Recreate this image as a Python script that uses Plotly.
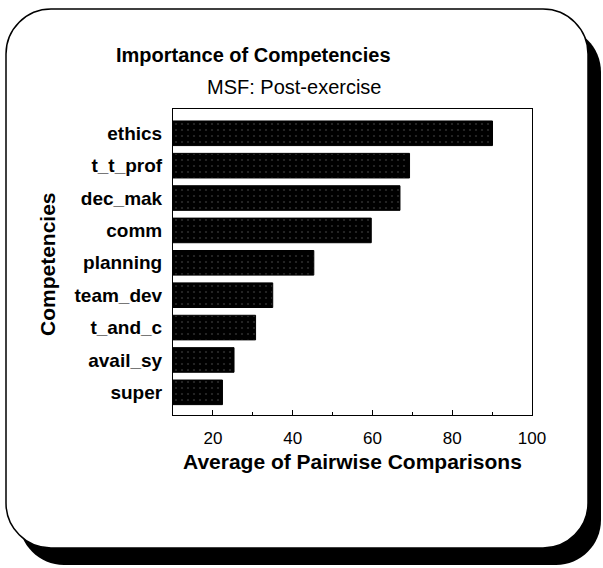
import plotly.graph_objects as go

# Competency rankings, average of pairwise comparisons (post-exercise)
competencies = ["ethics", "t_t_prof", "dec_mak", "comm", "planning",
                "team_dev", "t_and_c", "avail_sy", "super"]
avg_pairwise = [90.1, 69.3, 66.9, 59.7, 45.3, 35.0, 30.7, 25.3, 22.4]
x_tick_values = [20, 40, 60, 80, 100]
x_tick_labels = ["20", "40", "60", "80", "100"]

FONT = "Liberation Sans, Arial, sans-serif"
W, H = 603, 568
ML, MR, MT, MB = 173, 71, 109, 153
PW, PH = W - ML - MR, H - MT - MB


def px(x):
    return (x - ML) / PW


def py(y):
    return (H - MB - y) / PH


def rounded_box(x0, y0, x1, y1, r):
    """Closed SVG path (paper coords) of a rounded rectangle given in pixels."""
    k = 0.5523 * r
    pts = [
        ("M", [(x0 + r, y0)]),
        ("L", [(x1 - r, y0)]),
        ("C", [(x1 - r + k, y0), (x1, y0 + r - k), (x1, y0 + r)]),
        ("L", [(x1, y1 - r)]),
        ("C", [(x1, y1 - r + k), (x1 - r + k, y1), (x1 - r, y1)]),
        ("L", [(x0 + r, y1)]),
        ("C", [(x0 + r - k, y1), (x0, y1 - r + k), (x0, y1 - r)]),
        ("L", [(x0, y0 + r)]),
        ("C", [(x0, y0 + r - k), (x0 + r - k, y0), (x0 + r, y0)]),
    ]
    out = []
    for cmd, coords in pts:
        out.append(cmd + " ".join(f"{px(a):.5f},{py(b):.5f}" for a, b in coords))
    return " ".join(out) + " Z"


fig = go.Figure(
    go.Bar(
        x=avg_pairwise,
        y=competencies,
        orientation="h",
        width=0.76,
        marker=dict(
            color="black",
            line=dict(color="black", width=1),
            pattern=dict(shape=".", fgcolor="#555555", size=6, solidity=0.1),
        ),
        hoverinfo="x+y",
    )
)

shapes = [
    # drop shadow behind the card
    dict(type="path", xref="paper", yref="paper", layer="below",
         path=rounded_box(19, 27, 601, 565, 45),
         fillcolor="black", line=dict(width=0)),
    # white card
    dict(type="path", xref="paper", yref="paper", layer="below",
         path=rounded_box(6, 9, 588, 548, 45),
         fillcolor="white", line=dict(color="black", width=1.5)),
]

annotations = [
    dict(text="<b>Importance of Competencies</b>", x=px(253), y=py(55),
         xref="paper", yref="paper", xanchor="center", yanchor="middle",
         showarrow=False, font=dict(family=FONT, size=20, color="black")),
    dict(text="MSF: Post-exercise", x=px(294), y=py(87),
         xref="paper", yref="paper", xanchor="center", yanchor="middle",
         showarrow=False, font=dict(family=FONT, size=20, color="black")),
    dict(text="<b>Average of Pairwise Comparisons</b>", x=px(352), y=py(462),
         xref="paper", yref="paper", xanchor="center", yanchor="middle",
         showarrow=False, font=dict(family=FONT, size=21, color="black")),
    dict(text="<b>Competencies</b>", x=px(47), y=py(264), textangle=-90,
         xref="paper", yref="paper", xanchor="center", yanchor="middle",
         showarrow=False, font=dict(family=FONT, size=21, color="black")),
]

fig.update_layout(
    width=W, height=H, autosize=False,
    margin=dict(l=ML, r=MR, t=MT, b=MB, pad=0),
    paper_bgcolor="white",
    plot_bgcolor="rgba(0,0,0,0)",
    showlegend=False,
    shapes=shapes,
    annotations=annotations,
    font=dict(family=FONT, color="black"),
    xaxis=dict(
        range=[10, 100],
        tickvals=x_tick_values, ticktext=x_tick_labels,
        ticks="inside", ticklen=5, tickwidth=1, tickcolor="black",
        minor=dict(dtick=10, tick0=0, ticks="inside", ticklen=3,
                   tickcolor="black", showgrid=False),
        showgrid=False, zeroline=False,
        showline=True, linecolor="black", linewidth=1, mirror=True,
        tickfont=dict(family=FONT, size=17, color="black"),
        ticklabelstandoff=8,
    ),
    yaxis=dict(
        type="category",
        categoryorder="array", categoryarray=competencies,
        range=[len(competencies) - 1 + 0.70, -0.75],
        ticks="", showgrid=False, zeroline=False,
        showline=True, linecolor="black", linewidth=1, mirror=True,
        tickfont=dict(family=FONT, size=19, color="black", weight="bold"),
        ticklabelstandoff=6,
    ),
)

fig.write_html("out.html")
